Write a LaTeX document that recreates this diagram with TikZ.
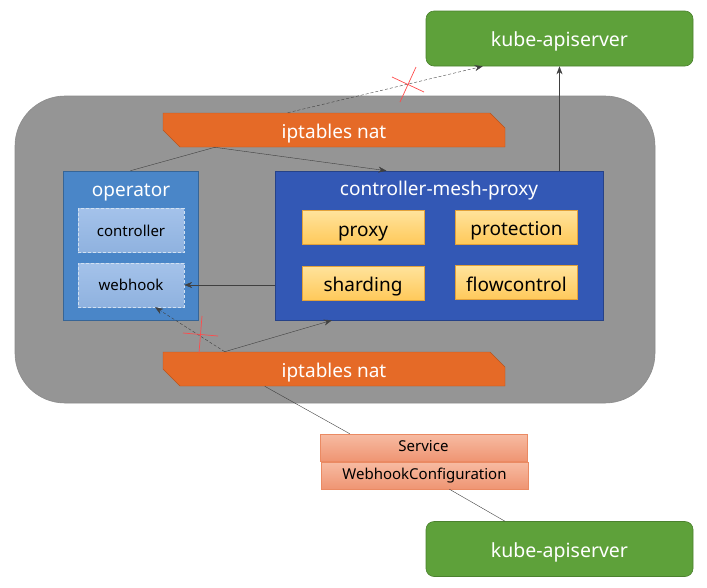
\documentclass[tikz,border=0pt]{standalone}
\usepackage{fontspec}
\setmainfont{Noto Sans}
\usepackage{tikz}
\usetikzlibrary{arrows, arrows.meta, calc}
\usepackage{xcolor}

\definecolor{podgray}{HTML}{959595}
\definecolor{apigreen}{HTML}{5EA13A}
\definecolor{natorange}{HTML}{E56A27}
\definecolor{opblue}{HTML}{4A86C8}
\definecolor{meshblue}{HTML}{3358B5}
\definecolor{functop}{HTML}{FFE39C}
\definecolor{funcbot}{HTML}{FFC95A}
\definecolor{funcline}{HTML}{E3A23A}
\definecolor{subtop}{HTML}{A4C2EA}
\definecolor{subbot}{HTML}{8FB2DF}
\definecolor{restop}{HTML}{F7BBA2}
\definecolor{resbot}{HTML}{EF9573}
\definecolor{resline}{HTML}{EA8A63}
\definecolor{blockred}{HTML}{FF4B4B}

\newcommand{\natplate}[1]{%
  \filldraw[natshape] ($(#1)+(-171,-17)$) -- ($(#1)+(156,-17)$) -- ($(#1)+(171,-2)$)
    -- ($(#1)+(171,17)$) -- ($(#1)+(-154,17)$) -- ($(#1)+(-171,0)$) -- cycle;}

\begin{document}
\begin{tikzpicture}[x=1pt, y=-1pt, >={Stealth[length=8pt, width=6pt]}, semithick,
    bigtext/.style={font=\fontsize{19}{22}\selectfont, text height=21pt, text depth=4pt},
    smalltext/.style={font=\fontsize{15}{18}\selectfont, text height=15pt, text depth=4pt},
    apibox/.style={rectangle, rounded corners=8pt, fill=apigreen, draw=apigreen!80!black,
      text=white, font=\fontsize{19.5}{23}\selectfont, text height=20.5pt, text depth=4pt,
      minimum width=267pt, minimum height=55pt},
    natshape/.style={fill=natorange, draw=natorange!80!black, thin},
    natbox/.style={rectangle, text=white, bigtext, minimum width=342pt, minimum height=34pt, inner sep=0pt},
    funcbox/.style={rectangle, top color=functop, bottom color=funcbot,
      draw=funcline, bigtext, minimum width=122pt, minimum height=34pt, inner sep=0pt},
    subbox/.style={rectangle, top color=subtop, bottom color=subbot,
      draw=white!75!opblue, densely dashed, thin, smalltext, minimum width=106pt, minimum height=44pt, inner sep=0pt},
    resbox/.style={rectangle, top color=restop, bottom color=resbot,
      draw=resline, thin, smalltext, text height=12pt, minimum width=207pt, minimum height=27pt, inner sep=0pt},
    titletext/.style={font=\fontsize{19}{22}\selectfont, text=white, anchor=base},
    link/.style={draw=black!75, thin},
    crossout/.style={draw=blockred, line width=0.7pt}]
  \useasboundingbox (0,0) rectangle (707,587);

  % pod
  \node[rectangle, rounded corners=50pt, fill=podgray, draw=black!45,
    minimum width=640pt, minimum height=307pt] (pod) at (335,249.5) {};

  % api servers
  \node[apibox] (apiTop) at (559.5,38.5) {kube-apiserver};
  \node[apibox] (apiBot) at (559.5,549) {kube-apiserver};

  % iptables
  \coordinate (natTopC) at (334,130);
  \coordinate (natBotC) at (334,369);
  \natplate{natTopC}
  \natplate{natBotC}
  \node[natbox] (natTop) at (natTopC) {iptables nat};
  \node[natbox] (natBot) at (natBotC) {iptables nat};

  % operator
  \node[rectangle, fill=opblue, draw=opblue!75!black, minimum width=135pt, minimum height=149pt] (operator) at (130.5,245.5) {};
  \node[titletext] (opTitle) at (131,196) {operator};
  \node[subbox] (controller) at (131,230.5) {controller};
  \node[subbox] (webhook) at (131,285) {webhook};

  % controller-mesh-proxy
  \node[rectangle, fill=meshblue, draw=meshblue!75!black, minimum width=328pt, minimum height=149pt] (mesh) at (439,245.5) {};
  \node[titletext] (meshTitle) at (439,195.5) {controller-mesh-proxy};
  \node[funcbox] (proxy) at (363,227.5) {proxy};
  \node[funcbox] (protection) at (516.5,227) {protection};
  \node[funcbox] (sharding) at (363,283) {sharding};
  \node[funcbox] (flowcontrol) at (516.5,282.5) {flowcontrol};

  % resources
  \node[resbox] (service) at (423.5,447.5) {Service};
  \node[resbox] (whconf) at (424.5,475.5) {WebhookConfiguration};

  % connectors
  \coordinate (tapTop) at ($(natTop.south west)!0.152!(natTop.south east)$);
  \coordinate (tapBot) at ($(natBot.north west)!0.181!(natBot.north east)$);

  \draw[link] (tapTop) -- (operator.north);
  \draw[link, ->] (tapTop) -- ($(mesh.north west)!0.34!(mesh.north east)$);
  \draw[link, densely dashed, ->] ($(natTop.north west)!0.365!(natTop.north east)$) -- ($(apiTop.south west)!0.213!(apiTop.south east)$);
  \draw[link, ->] (apiTop.south |- mesh.north) -- (apiTop.south);
  \draw[link, ->] (mesh.west |- webhook.east) -- (webhook.east);
  \draw[link, ->] (tapBot) -- ($(mesh.south west)!0.174!(mesh.south east)$);
  \draw[link, densely dashed, ->] (tapBot) -- ($(webhook.south west)!0.726!(webhook.south east)$);
  \draw[link] ($(natBot.south west)!0.298!(natBot.south east)$) -- ($(service.north west)!0.145!(service.north east)$);
  \draw[link] ($(whconf.south west)!0.62!(whconf.south east)$) -- ($(apiBot.north west)!0.296!(apiBot.north east)$);

  % blocked
  \coordinate (blockTop) at (408,84);
  \coordinate (blockBot) at (200,334);
  \draw[crossout] ($(blockTop)+(-16,-7)$) -- ($(blockTop)+(16,8)$);
  \draw[crossout] ($(blockTop)+(8,-17)$) -- ($(blockTop)+(-8,18)$);
  \draw[crossout] ($(blockBot)+(-17,-1)$) -- ($(blockBot)+(18,2)$);
  \draw[crossout] ($(blockBot)+(2,-18)$) -- ($(blockBot)+(-1,19)$);
\end{tikzpicture}
\end{document}
